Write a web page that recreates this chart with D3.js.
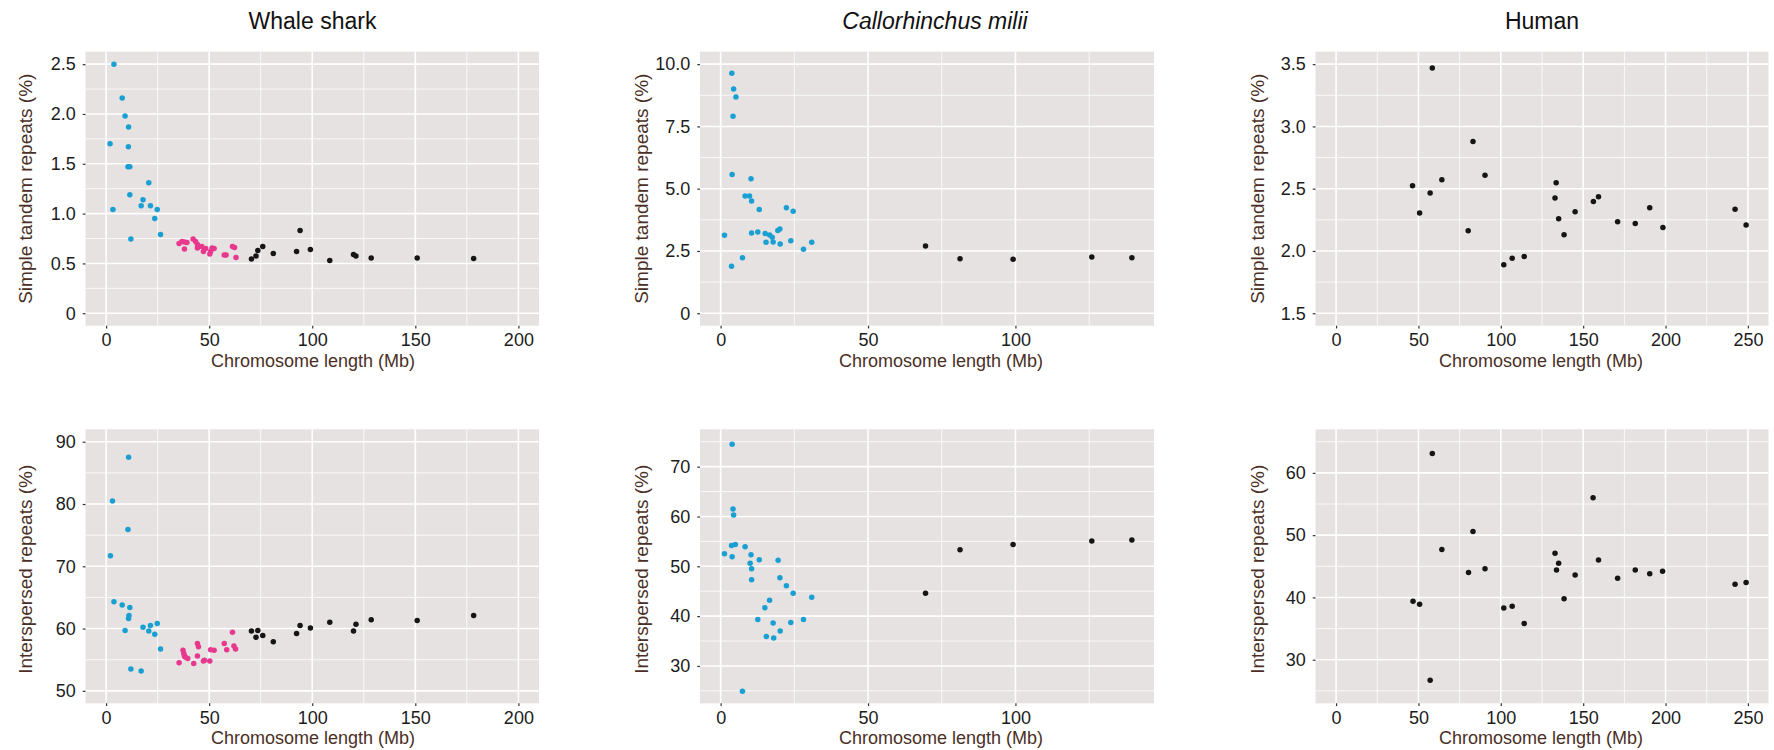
<!DOCTYPE html>
<html>
<head>
<meta charset="utf-8">
<script src="https://cdn.jsdelivr.net/npm/d3@7"></script>
<style>
  html, body { margin: 0; padding: 0; background: #ffffff; }
  svg { display: block; font-family: "Liberation Sans", Arial, Helvetica, sans-serif; }
</style>
</head>
<body>
<svg id="chart" width="1774" height="750"></svg>
<script>
// ---------------- DATA ----------------
const speciesTitles = ["Whale shark", "Callorhinchus milii", "Human"];
const yTitles = ["Simple tandem repeats (%)", "Interspersed repeats (%)"];
const xTitle = "Chromosome length (Mb)";

// x ticks
const whaleXTicks = [0, 50, 100, 150, 200];
const calXTicks = [0, 50, 100];
const humanXTicks = [0, 50, 100, 150, 200, 250];

// y ticks and labels
const whaleSTRTicks = [0, 0.5, 1.0, 1.5, 2.0, 2.5];
const whaleSTRLabels = ["0", "0.5", "1.0", "1.5", "2.0", "2.5"];
const calSTRTicks = [0, 2.5, 5, 7.5, 10];
const calSTRLabels = ["0", "2.5", "5.0", "7.5", "10.0"];
const humanSTRTicks = [1.5, 2.0, 2.5, 3.0, 3.5];
const humanSTRLabels = ["1.5", "2.0", "2.5", "3.0", "3.5"];
const whaleIRTicks = [50, 60, 70, 80, 90];
const calIRTicks = [30, 40, 50, 60, 70];
const humanIRTicks = [30, 40, 50, 60];

// axis limits (before ggplot-style 5% expansion)
const whaleXLim = [0, 200];
const calXLim = [0, 140];
const humanXLim = [0, 250];
const whaleSTRLim = [0, 2.5];
const calSTRLim = [0, 10];
const humanSTRLim = [1.5, 3.5];
const whaleIRLim = [50, 90];
const calIRLim = [25, 75];
const humanIRLim = [25, 65];

// Whale shark: simple tandem repeats  [length Mb, %]
const whaleBlueSTR = [[3.8,2.50],[7.8,2.16],[9.2,1.98],[10.9,1.87],[1.9,1.70],[10.8,1.67],[10.6,1.47],[11.5,1.47],
  [20.7,1.31],[11.5,1.19],[17.9,1.14],[17.0,1.08],[21.5,1.08],[24.8,1.04],[3.3,1.04],[23.6,0.95],[26.4,0.79],[12.0,0.745]];
const whalePinkSTR = [[35.4,0.70],[36.8,0.72],[38.0,0.715],[39.2,0.71],[38.0,0.645],[42.2,0.745],[43.4,0.72],[44.3,0.69],
  [44.3,0.655],[45.1,0.67],[46.4,0.67],[47.2,0.62],[48.3,0.65],[50.7,0.62],[50.3,0.595],[51.4,0.655],[52.4,0.65],
  [57.3,0.585],[58.2,0.585],[61.3,0.67],[62.3,0.66],[63.0,0.56]];
const whaleBlackSTR = [[70.5,0.545],[72.7,0.575],[73.6,0.63],[76.0,0.67],[81.1,0.60],[92.4,0.62],[94.1,0.83],[99.1,0.64],
  [108.5,0.53],[120.0,0.59],[121.2,0.575],[128.6,0.555],[150.9,0.555],[178.3,0.55]];

// Whale shark: interspersed repeats
const whaleBlueIR = [[10.9,87.5],[3.1,80.5],[10.6,75.9],[2.1,71.7],[3.8,64.3],[7.8,63.8],[11.5,63.4],[11.1,62.1],[10.9,61.6],
  [9.2,59.7],[17.9,60.2],[21.5,60.5],[20.7,59.6],[24.8,60.8],[23.6,59.1],[26.4,56.7],[12.0,53.5],[17.0,53.2]];
const whalePinkIR = [[35.4,54.5],[37.3,56.5],[37.7,56.0],[38.0,55.6],[38.5,55.4],[39.6,55.2],[42.5,54.4],[44.3,57.6],
  [44.8,57.1],[44.3,55.6],[47.2,54.8],[47.7,54.9],[50.3,54.8],[50.7,56.6],[52.4,56.5],[57.3,57.6],[58.5,56.6],
  [61.3,59.4],[62.0,57.2],[62.8,56.7]];
const whaleBlackIR = [[70.5,59.6],[72.7,58.6],[73.6,59.7],[76.0,58.9],[81.1,57.9],[92.4,59.2],[94.1,60.5],[99.1,60.1],
  [108.5,61.0],[120.0,59.6],[121.2,60.7],[128.6,61.4],[150.9,61.3],[178.3,62.1]];

// Callorhinchus milii
const calBlueSTR = [[3.8,9.63],[4.4,9.0],[5.2,8.68],[4.2,7.91],[3.9,5.57],[10.3,5.40],[8.3,4.71],[9.8,4.71],[10.5,4.51],
  [13.1,4.16],[22.3,4.24],[24.6,4.09],[1.3,3.13],[10.5,3.22],[12.6,3.26],[15.1,3.20],[16.6,3.14],[17.5,3.05],[19.4,3.32],
  [20.1,3.38],[15.4,2.85],[17.8,2.86],[20.2,2.78],[23.8,2.91],[30.9,2.85],[28.1,2.57],[7.4,2.23],[3.7,1.89]];
const calBlackSTR = [[69.5,2.70],[81.2,2.19],[99.2,2.17],[125.9,2.26],[139.5,2.23]];
const calBlueIR = [[3.9,74.5],[4.2,61.5],[4.4,60.3],[3.7,54.2],[5.0,54.4],[1.3,52.5],[3.9,51.9],[8.3,53.9],[10.3,52.3],
  [10.0,50.6],[10.5,49.5],[10.5,47.3],[13.1,51.3],[19.5,51.2],[20.1,47.7],[22.3,46.1],[24.6,44.6],[30.9,43.8],[16.6,43.2],
  [15.0,41.7],[12.6,39.3],[28.1,39.3],[17.8,38.6],[23.8,38.7],[20.2,37.0],[15.5,35.9],[18.0,35.6],[7.4,24.9]];
const calBlackIR = [[69.5,44.6],[81.2,53.3],[99.2,54.4],[125.9,55.1],[139.5,55.3]];

// Human
const humanSTR = [[46.4,2.524],[50.7,2.304],[57.1,2.465],[58.4,3.47],[64.2,2.572],[80.2,2.162],[83.1,2.878],[90.4,2.607],
  [101.8,1.889],[106.9,1.942],[114.2,1.956],[132.9,2.425],[133.6,2.548],[135.1,2.259],[138.4,2.130],[145.1,2.315],
  [156.2,2.398],[159.3,2.436],[170.9,2.235],[181.6,2.221],[190.4,2.347],[198.4,2.189],[242.2,2.336],[248.9,2.208]];
const humanIR = [[46.7,39.4],[50.7,38.9],[57.1,26.7],[58.4,63.1],[64.2,47.7],[80.4,44.0],[83.1,50.6],[90.4,44.6],
  [101.8,38.3],[106.9,38.6],[114.2,35.8],[132.9,47.1],[133.8,44.4],[135.1,45.5],[138.4,39.8],[145.1,43.6],
  [156.0,56.0],[159.3,46.0],[170.9,43.1],[181.6,44.4],[190.4,43.8],[198.2,44.2],[242.2,42.1],[248.9,42.4]];

// ---------------- STYLE / LAYOUT ----------------
const BLUE = "#1a9fd2", PINK = "#e8388e", BLACK = "#151515";
const PANEL_BG = "#e5e2e1";
const TITLE_COL = "#4a2f26";
const TICK_COL = "#1c1c1c";

const cols = [
  {left: 85.5, right: 539, titleX: 312.5, xTitleX: 313, yTitleX: 25},
  {left: 700, right: 1154, titleX: 935, xTitleX: 941, yTitleX: 641},
  {left: 1315.5, right: 1768.5, titleX: 1542, xTitleX: 1541, yTitleX: 1257}
];
const rows = [{top: 51.7, bottom: 325.7}, {top: 429.3, bottom: 703.3}];

function expand(lim) { const d = (lim[1] - lim[0]) * 0.05; return [lim[0] - d, lim[1] + d]; }
function fmtLabels(ticks, labels) { return labels ? (d, i) => labels[i] : d => String(d); }

const panels = [
  {c:0, r:0, xl: whaleXLim, yl: whaleSTRLim, xt: whaleXTicks, yt: whaleSTRTicks, ylab: whaleSTRLabels,
   series: [[whaleBlueSTR, BLUE], [whalePinkSTR, PINK], [whaleBlackSTR, BLACK]]},
  {c:1, r:0, xl: calXLim, yl: calSTRLim, xt: calXTicks, yt: calSTRTicks, ylab: calSTRLabels,
   series: [[calBlueSTR, BLUE], [calBlackSTR, BLACK]]},
  {c:2, r:0, xl: humanXLim, yl: humanSTRLim, xt: humanXTicks, yt: humanSTRTicks, ylab: humanSTRLabels,
   series: [[humanSTR, BLACK]]},
  {c:0, r:1, xl: whaleXLim, yl: whaleIRLim, xt: whaleXTicks, yt: whaleIRTicks, ylab: null,
   series: [[whaleBlueIR, BLUE], [whalePinkIR, PINK], [whaleBlackIR, BLACK]]},
  {c:1, r:1, xl: calXLim, yl: calIRLim, xt: calXTicks, yt: calIRTicks, ylab: null,
   series: [[calBlueIR, BLUE], [calBlackIR, BLACK]]},
  {c:2, r:1, xl: humanXLim, yl: humanIRLim, xt: humanXTicks, yt: humanIRTicks, ylab: null,
   series: [[humanIR, BLACK]]}
];

function minorBreaks(ticks, dom) {
  const step = ticks[1] - ticks[0];
  const out = [];
  for (let i = -1; i < ticks.length; i++) {
    const v = (i < 0 ? ticks[0] - step / 2 : ticks[i] + step / 2);
    if (v > dom[0] && v < dom[1]) out.push(v);
  }
  return out;
}

const svg = d3.select("#chart");

panels.forEach(p => {
  const col = cols[p.c], row = rows[p.r];
  const xDom = expand(p.xl), yDom = expand(p.yl);
  const x = d3.scaleLinear().domain(xDom).range([col.left, col.right]);
  const y = d3.scaleLinear().domain(yDom).range([row.bottom, row.top]);
  const g = svg.append("g");

  g.append("rect").attr("x", col.left).attr("y", row.top)
    .attr("width", col.right - col.left).attr("height", row.bottom - row.top)
    .attr("fill", PANEL_BG);

  // minor grid
  g.selectAll(".vminor").data(minorBreaks(p.xt, xDom)).join("line")
    .attr("x1", d => x(d)).attr("x2", d => x(d)).attr("y1", row.top).attr("y2", row.bottom)
    .attr("stroke", "#fff").attr("stroke-width", 0.8);
  g.selectAll(".hminor").data(minorBreaks(p.yt, yDom)).join("line")
    .attr("y1", d => y(d)).attr("y2", d => y(d)).attr("x1", col.left).attr("x2", col.right)
    .attr("stroke", "#fff").attr("stroke-width", 0.8);
  // major grid
  g.selectAll(".vmajor").data(p.xt).join("line")
    .attr("x1", d => x(d)).attr("x2", d => x(d)).attr("y1", row.top).attr("y2", row.bottom)
    .attr("stroke", "#fff").attr("stroke-width", 1.6);
  g.selectAll(".hmajor").data(p.yt).join("line")
    .attr("y1", d => y(d)).attr("y2", d => y(d)).attr("x1", col.left).attr("x2", col.right)
    .attr("stroke", "#fff").attr("stroke-width", 1.6);

  // points
  p.series.forEach(([data, color]) => {
    g.append("g").selectAll("circle").data(data).join("circle")
      .attr("cx", d => x(d[0])).attr("cy", d => y(d[1])).attr("r", 2.75)
      .attr("fill", color);
  });

  // axes
  const xAxis = d3.axisBottom(x).tickValues(p.xt).tickFormat(d => String(d))
    .tickSize(2.75).tickPadding(5);
  const gx = g.append("g").attr("transform", `translate(0,${row.bottom})`).call(xAxis);
  gx.select(".domain").remove();
  gx.selectAll(".tick line").attr("stroke", "#333").attr("stroke-width", 1.2);
  gx.selectAll(".tick text").attr("fill", TICK_COL).attr("font-size", 18)
    .attr("font-family", "Liberation Sans, Arial, sans-serif");

  const yAxis = d3.axisLeft(y).tickValues(p.yt).tickFormat(fmtLabels(p.yt, p.ylab))
    .tickSize(2.75).tickPadding(7);
  const gy = g.append("g").attr("transform", `translate(${col.left},0)`).call(yAxis);
  gy.select(".domain").remove();
  gy.selectAll(".tick line").attr("stroke", "#333").attr("stroke-width", 1.2);
  gy.selectAll(".tick text").attr("fill", TICK_COL).attr("font-size", 18)
    .attr("font-family", "Liberation Sans, Arial, sans-serif");

  // axis titles
  g.append("text").attr("x", col.xTitleX).attr("y", row.bottom + 41)
    .attr("text-anchor", "middle").attr("font-size", 18).attr("fill", TITLE_COL)
    .text(xTitle);
  const cy = (row.top + row.bottom) / 2 + (p.r === 1 ? 3 : 0);
  g.append("text")
    .attr("transform", `translate(${col.yTitleX},${cy}) rotate(-90)`)
    .attr("text-anchor", "middle").attr("dominant-baseline", "central")
    .attr("font-size", 19).attr("fill", TITLE_COL)
    .text(yTitles[p.r]);
});

// species titles
svg.selectAll(".species").data(speciesTitles).join("text")
  .attr("x", (d, i) => cols[i].titleX).attr("y", 28.5)
  .attr("text-anchor", "middle").attr("font-size", 23).attr("fill", "#111")
  .attr("font-style", (d, i) => i === 1 ? "italic" : "normal")
  .text(d => d);
</script>
</body>
</html>
